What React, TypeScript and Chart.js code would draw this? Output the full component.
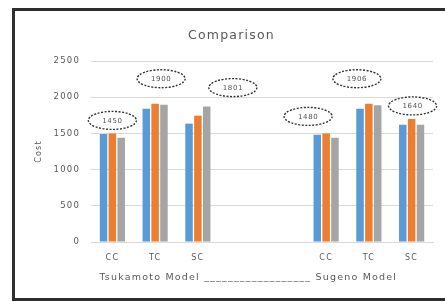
import React, { useEffect, useRef } from "react";
import { Chart, registerables } from "chart.js";

Chart.register(...registerables);

const categories = ["CC", "TC", "SC", "", "", "CC", "TC", "SC"];
const seriesBlue = [1490, 1840, 1635, null, null, 1480, 1840, 1620];
const seriesOrange = [1500, 1910, 1745, null, null, 1500, 1910, 1700];
const seriesGray = [1440, 1895, 1870, null, null, 1440, 1890, 1620];
const calloutIndex = [0, 1, 2, 5, 6, 7];
const calloutLabels = ["1450", "1900", "1801", "1480", "1906", "1640"];
const yTicks = [0, 500, 1000, 1500, 2000, 2500];

const FONT = "'DejaVu Sans', Verdana, sans-serif";

// style-only offsets for the dashed ellipse callouts (dx, dy in px)
const calloutOffsets: [number, number][] = [
  [0, 13],
  [6, 25],
  [35, 19],
  [-18, 17],
  [-12, 25],
  [1, 13],
];

const spacingPlugin = {
  id: "spacing",
  beforeUpdate(chart: any) {
    chart.ctx.letterSpacing = "1.2px";
  },
  beforeDraw(chart: any) {
    chart.ctx.letterSpacing = "1.2px";
  },
};

const calloutPlugin = {
  id: "callouts",
  afterDatasetsDraw(chart: any) {
    const { ctx, scales } = chart;
    const x = scales.x;
    const y = scales.y;
    calloutIndex.forEach((idx, i) => {
      const top = Math.max(
        seriesBlue[idx] ?? 0,
        seriesOrange[idx] ?? 0,
        seriesGray[idx] ?? 0
      );
      const [dx, dy] = calloutOffsets[i];
      const cx = x.getPixelForValue(idx) + dx;
      const cy = y.getPixelForValue(top) - dy;
      ctx.save();
      ctx.letterSpacing = "0.6px";
      ctx.beginPath();
      ctx.ellipse(cx, cy, 24, 9, 0, 0, Math.PI * 2);
      ctx.fillStyle = "#ffffff";
      ctx.fill();
      ctx.setLineDash([2, 1.5]);
      ctx.lineWidth = 1.4;
      ctx.strokeStyle = "#333333";
      ctx.stroke();
      ctx.setLineDash([]);
      ctx.fillStyle = "#555555";
      ctx.font = `7px ${FONT}`;
      ctx.textAlign = "center";
      ctx.textBaseline = "middle";
      ctx.fillText(calloutLabels[i], cx, cy + 0.5);
      ctx.restore();
    });
  },
};

export default function App() {
  const canvasRef = useRef<HTMLCanvasElement | null>(null);

  useEffect(() => {
    if (!canvasRef.current) return;
    const chart = new Chart(canvasRef.current, {
      type: "bar",
      data: {
        labels: categories,
        datasets: [
          { label: "Series 1", data: seriesBlue, backgroundColor: "#5B9BD5" },
          { label: "Series 2", data: seriesOrange, backgroundColor: "#ED7D31" },
          { label: "Series 3", data: seriesGray, backgroundColor: "#A5A5A5" },
        ],
      },
      options: {
        animation: false,
        responsive: false,
        maintainAspectRatio: false,
        layout: { padding: { left: 15, right: 12, top: 0, bottom: 11 } },
        datasets: {
          bar: { categoryPercentage: 0.62, barPercentage: 0.85 },
        },
        plugins: {
          legend: { display: false },
          tooltip: { enabled: false },
          title: {
            display: true,
            text: "Comparison",
            color: "#595959",
            font: { size: 12.5, family: FONT, weight: "normal" },
            padding: { top: 17, bottom: 18 },
          },
        },
        scales: {
          x: {
            grid: { display: false, drawTicks: false },
            border: { display: true, color: "#d9d9d9" },
            ticks: {
              color: "#595959",
              font: { size: 8, family: FONT },
              padding: 11,
              autoSkip: false,
              maxRotation: 0,
            },
            title: {
              display: true,
              text: "  Tsukamoto Model __________________ Sugeno Model",
              align: "start",
              color: "#595959",
              font: { size: 9.5, family: FONT },
              padding: { top: 4, bottom: 4 },
            },
            afterFit: (s: any) => {
              s.height = 45;
            },
          },
          y: {
            min: 0,
            max: 2500,
            afterBuildTicks: (s: any) => {
              s.ticks = yTicks.map((v) => ({ value: v }));
            },
            grid: { color: "#d9d9d9", drawTicks: false },
            border: { display: false },
            ticks: {
              color: "#595959",
              font: { size: 8.5, family: FONT },
              padding: 11,
              callback: (v: any) => String(v),
            },
            title: {
              display: true,
              text: "Cost",
              color: "#595959",
              font: { size: 8, family: FONT },
              padding: { top: 4, bottom: 4 },
            },
            afterFit: (s: any) => {
              s.width = 61;
            },
          },
        },
      },
      plugins: [spacingPlugin, calloutPlugin],
    });
    return () => chart.destroy();
  }, []);

  return (
    <div
      style={{
        position: "absolute",
        left: 12,
        top: 8,
        width: 430,
        height: 287,
        border: "3px solid #2e2e2e",
        background: "#ffffff",
      }}
    >
      <canvas ref={canvasRef} width={430} height={287} style={{ display: "block" }} />
    </div>
  );
}
